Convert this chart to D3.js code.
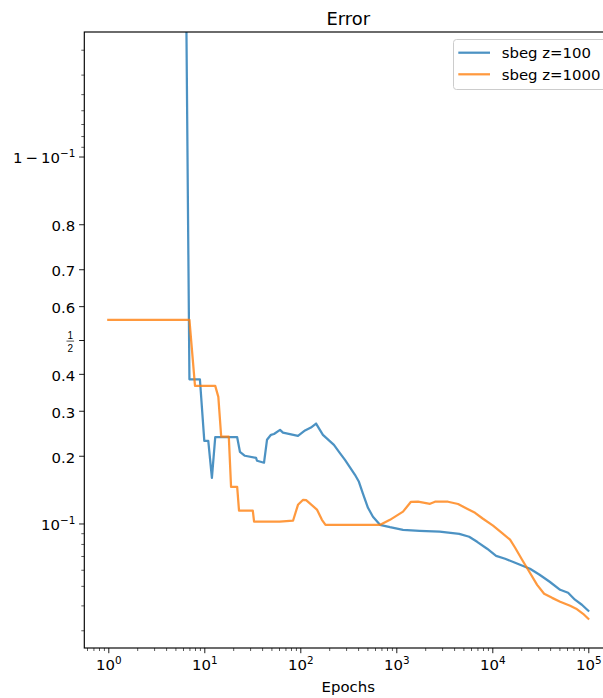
<!DOCTYPE html>
<html>
<head>
<meta charset="utf-8">
<script src="https://cdn.jsdelivr.net/npm/d3@7"></script>
<style>
  html, body { margin: 0; padding: 0; background: #ffffff; }
  svg { display: block; font-family: "DejaVu Sans", sans-serif; }
</style>
</head>
<body>
<svg id="chart" width="603" height="698"></svg>
<script>
// Training error per epoch for two runs
const seriesNames = ["sbeg z=100", "sbeg z=1000"];

const epochsZ100 = [1, 6, 7, 9, 10, 11, 12, 13, 22, 23.5, 26.5, 34.6, 35.4, 41.9, 45, 49.5, 53.2, 61.5, 66,
  94.6, 112, 129, 146, 172, 224, 253, 292, 371, 408, 450, 507, 571, 676, 859, 1175, 1750, 2830, 4530, 5740,
  6950, 8830, 10950, 13600, 17290, 21900, 24700, 31100, 39600, 50900, 61600, 72600, 85700, 100000];
const errorZ100 = [0.9998, 0.9998, 0.3845, 0.3845, 0.230, 0.230, 0.161, 0.238, 0.238, 0.2077, 0.200, 0.196,
  0.1906, 0.187, 0.2324, 0.2432, 0.245, 0.2543, 0.248, 0.241, 0.2529, 0.2595, 0.2688, 0.2432, 0.2218, 0.2077,
  0.1923, 0.166, 0.1547, 0.1368, 0.1182, 0.1075, 0.0986, 0.0961, 0.0934, 0.0924, 0.0915, 0.0894, 0.0866,
  0.0819, 0.0759, 0.0701, 0.0679, 0.0649, 0.0621, 0.0607, 0.0567, 0.0524, 0.0478, 0.0462, 0.0427, 0.0403, 0.0376];

const epochsZ1000 = [1, 7, 8, 13, 14, 15, 18, 19, 22, 23, 32, 33, 61, 84, 94.6, 107, 115, 149, 168, 183,
  680, 859, 1175, 1422, 1683, 2245, 2530, 3457, 4398, 5460, 6610, 8000, 10180, 12950, 15310, 17290, 20430,
  23600, 29300, 34660, 42000, 50900, 64700, 74700, 88300, 100000];
const errorZ1000 = [0.560, 0.560, 0.366, 0.366, 0.336, 0.239, 0.239, 0.147, 0.147, 0.1146, 0.1146, 0.102,
  0.102, 0.103, 0.122, 0.1286, 0.128, 0.116, 0.104, 0.0986, 0.0986, 0.104, 0.1135, 0.1259, 0.126, 0.1233,
  0.126, 0.126, 0.123, 0.117, 0.1121, 0.1052, 0.0977, 0.0894, 0.0838, 0.0767, 0.0671, 0.060, 0.0506, 0.0457,
  0.0436, 0.0417, 0.0398, 0.0385, 0.0363, 0.0343];

// Axis ticks
const xMajorTicks = [1, 10, 100, 1000, 10000, 100000];
const yMajorTicks = [0.1, 0.2, 0.3, 0.4, 0.5, 0.6, 0.7, 0.8, 0.9];
const yMajorLabels = ["10^-1", "0.2", "0.3", "0.4", "1/2", "0.6", "0.7", "0.8", "1-10^-1"];
const yMinorTicks = [0.03, 0.04, 0.05, 0.06, 0.07, 0.08, 0.09, 0.91, 0.92, 0.93, 0.94, 0.95, 0.96, 0.97];

const xDomain = [Math.pow(10, -0.25), Math.pow(10, 5.25)];
const yDomain = [0.0244, 0.9756];

const colors = ["#1f77b4", "#ff7f0e"];

// Layout
const W = 603, H = 698;
const plotLeft = 84.3, plotRight = 612.3, plotTop = 32, plotBottom = 648;
const majorLen = 5.2, minorLen = 3;
const fontSize = 14.9, supSize = 10.4, titleSize = 17.9;

const svg = d3.select("#chart");
svg.append("rect").attr("width", W).attr("height", H).attr("fill", "#ffffff");

const logit = p => Math.log10(p / (1 - p));

const x = d3.scaleLog().domain(xDomain).range([plotLeft, plotRight]);
const y = d3.scaleLinear().domain(yDomain.map(logit)).range([plotBottom, plotTop]);

// x minor ticks: 2..9 within every decade in range
const xMinorTicks = [];
for (let e = -1; e <= 5; e++) {
  for (let m = 2; m <= 9; m++) {
    const v = m * Math.pow(10, e);
    if (v >= xDomain[0] && v <= xDomain[1]) xMinorTicks.push(v);
  }
}

// Lines
svg.append("defs").append("clipPath").attr("id", "plotClip")
  .append("rect").attr("x", plotLeft).attr("y", plotTop)
  .attr("width", plotRight - plotLeft).attr("height", plotBottom - plotTop);

const line = d3.line().x(d => x(d[0])).y(d => y(logit(d[1])));
const series = [
  d3.zip(epochsZ100, errorZ100),
  d3.zip(epochsZ1000, errorZ1000)
];
const plot = svg.append("g").attr("clip-path", "url(#plotClip)");
series.forEach((s, i) => {
  plot.append("path")
    .datum(s)
    .attr("d", line)
    .attr("fill", "none")
    .attr("stroke", colors[i])
    .attr("stroke-opacity", 0.8)
    .attr("stroke-width", 2.25)
    .attr("stroke-linejoin", "round")
    .attr("stroke-linecap", "square");
});

// X axis
const xMinorAxis = d3.axisBottom(x).tickValues(xMinorTicks).tickSize(minorLen).tickFormat("");
const xMajorAxis = d3.axisBottom(x).tickValues(xMajorTicks).tickSize(majorLen).tickPadding(5);
svg.append("g").attr("transform", `translate(0,${plotBottom})`).call(xMinorAxis)
  .call(g => g.select(".domain").remove())
  .call(g => g.selectAll("line").attr("stroke", "#000").attr("stroke-width", 0.65));
const gx = svg.append("g").attr("transform", `translate(0,${plotBottom})`).call(xMajorAxis);
gx.select(".domain").remove();
gx.selectAll("line").attr("stroke", "#000").attr("stroke-width", 0.9);
gx.selectAll(".tick text").each(function(d) {
  const t = d3.select(this);
  const exp = Math.round(Math.log10(d));
  t.text(null).attr("y", 22).attr("dy", null).attr("fill", "#000")
    .attr("font-size", fontSize).attr("font-family", "DejaVu Sans, sans-serif");
  t.append("tspan").text("10");
  t.append("tspan").attr("dy", -6.5).attr("font-size", supSize).text(String(exp).replace("-", "\u2212"));
});

// Y axis (logit)
const yMinorAxis = d3.axisLeft(y).tickValues(yMinorTicks.map(logit)).tickSize(minorLen).tickFormat("");
const yMajorAxis = d3.axisLeft(y).tickValues(yMajorTicks.map(logit)).tickSize(majorLen).tickPadding(3.8);
svg.append("g").attr("transform", `translate(${plotLeft},0)`).call(yMinorAxis)
  .call(g => g.select(".domain").remove())
  .call(g => g.selectAll("line").attr("stroke", "#000").attr("stroke-width", 0.65));
const gy = svg.append("g").attr("transform", `translate(${plotLeft},0)`).call(yMajorAxis);
gy.select(".domain").remove();
gy.selectAll("line").attr("stroke", "#000").attr("stroke-width", 0.9);
gy.selectAll(".tick text").each(function(d, i) {
  const t = d3.select(this);
  const lab = yMajorLabels[i];
  t.text(null).attr("dy", 6.3).attr("fill", "#000")
    .attr("font-size", fontSize).attr("font-family", "DejaVu Sans, sans-serif");
  if (lab === "10^-1") {
    t.append("tspan").text("10");
    t.append("tspan").attr("dy", -6.5).attr("font-size", supSize).text("\u22121");
  } else if (lab === "1-10^-1") {
    t.append("tspan").text("1\u2009\u2212\u200910");
    t.append("tspan").attr("dy", -6.5).attr("font-size", supSize).text("\u22121");
  } else if (lab === "1/2") {
    // stacked fraction
    const g = d3.select(this.parentNode);
    t.remove();
    const cx = -14;
    g.append("text").attr("x", cx).attr("y", -1.6).attr("text-anchor", "middle")
      .attr("font-size", 10).attr("fill", "#000").text("1");
    g.append("line").attr("x1", cx - 3.8).attr("x2", cx + 3.8).attr("y1", 0.6).attr("y2", 0.6)
      .attr("stroke", "#000").attr("stroke-width", 0.7);
    g.append("text").attr("x", cx).attr("y", 11.2).attr("text-anchor", "middle")
      .attr("font-size", 10).attr("fill", "#000").text("2");
  } else {
    t.text(lab);
  }
});

// Spines
svg.append("rect")
  .attr("x", plotLeft).attr("y", plotTop)
  .attr("width", plotRight - plotLeft).attr("height", plotBottom - plotTop)
  .attr("fill", "none").attr("stroke", "#000").attr("stroke-width", 1.15);

// Title and axis label
svg.append("text").attr("x", (plotLeft + plotRight) / 2).attr("y", 25)
  .attr("text-anchor", "middle").attr("font-size", titleSize).attr("fill", "#000").text("Error");
svg.append("text").attr("x", (plotLeft + plotRight) / 2).attr("y", 691.5)
  .attr("text-anchor", "middle").attr("font-size", fontSize).attr("fill", "#000").text("Epochs");

// Legend
const legend = svg.append("g");
legend.append("rect")
  .attr("x", 453.5).attr("y", 39.5).attr("width", 160).attr("height", 50).attr("rx", 3)
  .attr("fill", "#ffffff").attr("fill-opacity", 0.8)
  .attr("stroke", "#cccccc").attr("stroke-width", 1);
seriesNames.forEach((name, i) => {
  const ly = 52.7 + i * 21.6;
  legend.append("line")
    .attr("x1", 458.3).attr("x2", 490).attr("y1", ly).attr("y2", ly)
    .attr("stroke", colors[i]).attr("stroke-opacity", 0.8).attr("stroke-width", 2.25);
  legend.append("text")
    .attr("x", 501.7).attr("y", ly + 5.2)
    .attr("font-size", fontSize).attr("fill", "#000").text(name);
});
</script>
</body>
</html>
